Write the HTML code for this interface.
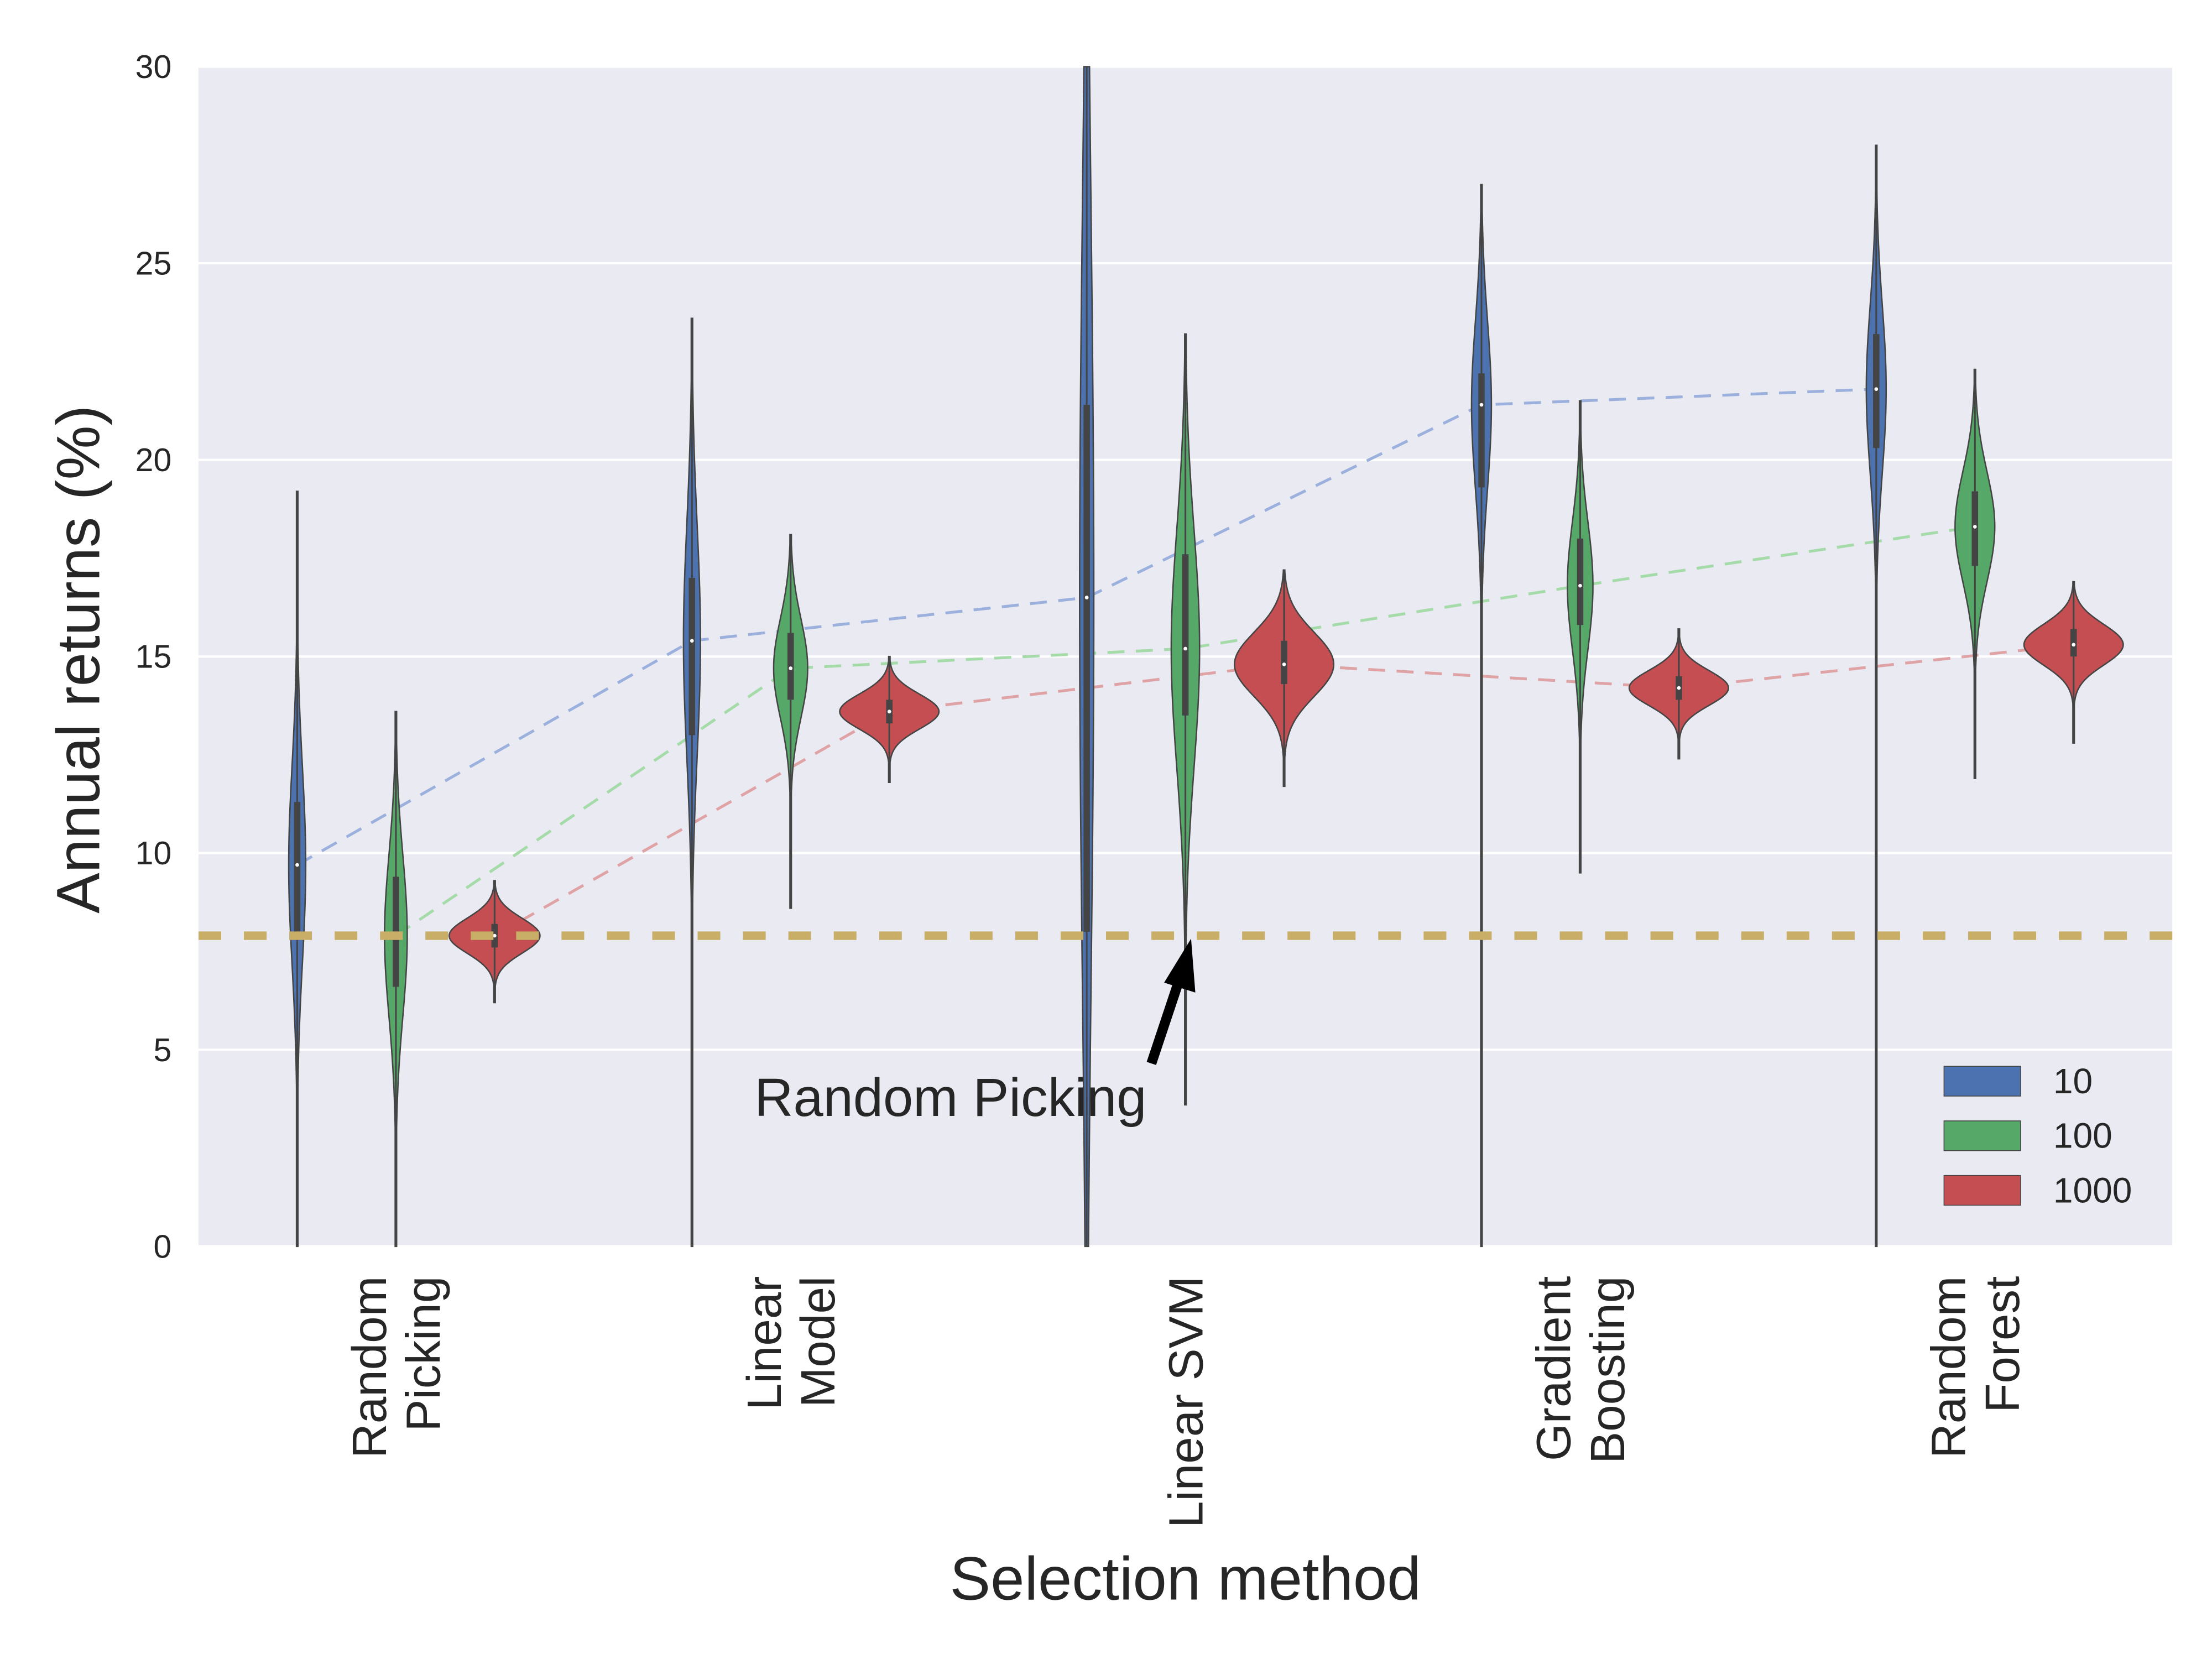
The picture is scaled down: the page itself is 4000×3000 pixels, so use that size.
<!DOCTYPE html>
<html><head><meta charset="utf-8"><style>
html,body{margin:0;padding:0;background:#fff;}
svg{display:block;font-family:"Liberation Sans",sans-serif;}
</style></head><body>
<svg id="chart" width="4000" height="3000" viewBox="0 0 1560 1170" xmlns="http://www.w3.org/2000/svg">
<rect x="140" y="47" width="1392" height="832" fill="#eaeaf2"/>
<g id="grid"></g>
<g id="trend"></g>
<g id="violins"></g>
<g id="refline"></g>
<g id="ticks"></g>
<text transform="translate(70,465) rotate(-90)" text-anchor="middle" font-size="43" fill="#262626">Annual returns (%)</text>
<text x="836" y="1128" text-anchor="middle" font-size="43" fill="#262626">Selection method</text>
<g>
<line x1="812" y1="750" x2="832" y2="690" stroke="#000" stroke-width="7"/>
<polygon points="840,662 843,700 821,693" fill="#000"/>
<text x="532" y="787" font-size="38" fill="#262626">Random Picking</text>
</g>
<g id="legend"></g>
</svg>
<script>
const categories = [["Random","Picking"],["Linear","Model"],["Linear SVM"],["Gradient","Boosting"],["Random","Forest"]];
const seriesNames = ["10","100","1000"];
const medians = [[9.7,15.4,16.5,21.4,21.8],[7.9,14.7,15.2,16.8,18.3],[7.9,13.6,14.8,14.2,15.3]];
const q1s = [[7.9,13.0,8.0,19.3,20.3],[6.6,13.9,13.5,15.8,17.3],[7.6,13.3,14.3,13.9,15.0]];
const q3s = [[11.3,17.0,21.4,22.2,23.2],[9.4,15.6,17.6,18.0,19.2],[8.2,13.9,15.4,14.5,15.7]];
const mins = [[0,0,0,0,0],[0,8.6,3.6,9.5,11.9],[6.2,11.8,11.7,12.4,12.8]];
const maxs = [[19.2,23.6,30,27,28],[13.6,18.1,23.2,21.5,22.3],[9.3,15.0,17.2,15.7,16.9]];
const peakWidths = [[6,6,5,7,7],[8,12,10,9,14],[32,35,35,35,35]];
const refValue = 7.9;
const yTicks = [0,5,10,15,20,25,30];

const NS="http://www.w3.org/2000/svg";
const X0=140,X1=1532,Y0=879,Y1=47,YMAX=30;
const colors=["#4c72b0","#55a868","#c44e52"];
const lightColors=["#9bb0dd","#a5dba9","#e0a3a5"];
function yS(v){return Y0-(v/YMAX)*(Y0-Y1);}
const bandW=(X1-X0)/categories.length;
function xC(i){return X0+bandW*(i+0.5);}
function xS(i,s){return xC(i)+(s-1)*bandW*0.25;}
function mk(tag,attrs,parent){const e=document.createElementNS(NS,tag);for(const k in attrs)e.setAttribute(k,attrs[k]);parent.appendChild(e);return e;}

const grid=document.getElementById('grid'),ticks=document.getElementById('ticks');
yTicks.forEach(t=>{
  const l=mk('line',{x1:X0,x2:X1,y1:yS(t),y2:yS(t),stroke:'#fff','stroke-width':1.6},grid);
  
  
  const tx=mk('text',{x:121,y:yS(t)+8,'text-anchor':'end','font-size':23,fill:'#262626'},ticks);
  tx.textContent=t;
  
  
});
categories.forEach((lines,i)=>{
  const n=lines.length;
  lines.forEach((ln,j)=>{
    const bx=xC(i)+(j-(n-1)/2)*38+12;
    const tx=mk('text',{transform:`translate(${bx},900) rotate(-90)`,'text-anchor':'end','font-size':34,fill:'#262626'},ticks);
    tx.textContent=ln;
    
    
  });
});

const trend=document.getElementById('trend');
for(let s=0;s<3;s++){
  const pts=medians[s].map((m,i)=>xS(i,s)+','+yS(m)).join(' ');
  const pl=mk('polyline',{points:pts,fill:'none',stroke:lightColors[s],'stroke-width':2,'stroke-dasharray':'12,8'},trend);
  
  
}

const vg=document.getElementById('violins');
for(let s=0;s<3;s++){
  for(let i=0;i<categories.length;i++){
    const cx=xS(i,s),m=medians[s][i],a=q1s[s][i],b=q3s[s][i],lo=mins[s][i],hi=maxs[s][i],hw=peakWidths[s][i];
    const sd=Math.max((b-a)/1.35,0.15);
    const N=120,right=[],left=[];
    for(let k=0;k<=N;k++){
      const v=lo+(hi-lo)*k/N;
      const w=Math.max(0.5,hw*Math.exp(-0.5*Math.pow((v-m)/sd,2)));
      right.push((cx+w)+','+yS(v));left.unshift((cx-w)+','+yS(v));
    }
    const g=mk('g',{},vg);
    
    
    mk('polygon',{points:right.concat(left).join(' '),fill:colors[s],stroke:'#444','stroke-width':1},g);
    mk('line',{x1:cx,x2:cx,y1:yS(lo),y2:yS(hi),stroke:'#444','stroke-width':1.2},g);
    mk('line',{x1:cx,x2:cx,y1:yS(a),y2:yS(b),stroke:'#444','stroke-width':4.5},g);
    mk('circle',{cx:cx,cy:yS(m),r:1.3,fill:'#fff'},g);
  }
}

const rl=mk('line',{x1:X0,x2:X1,y1:yS(refValue),y2:yS(refValue),stroke:'#c8ae66','stroke-width':6,'stroke-dasharray':'16,16'},document.getElementById('refline'));



const lg=document.getElementById('legend');
seriesNames.forEach((n,s)=>{
  const y=752+s*38.5;
  const r=mk('rect',{x:1371,y:y,width:54,height:21,fill:colors[s],stroke:'#444','stroke-width':0.6},lg);
  
  
  const t=mk('text',{x:1448,y:y+19,'font-size':25,fill:'#262626'},lg);
  t.textContent=n;
  
  
});
</script>
</body></html>
